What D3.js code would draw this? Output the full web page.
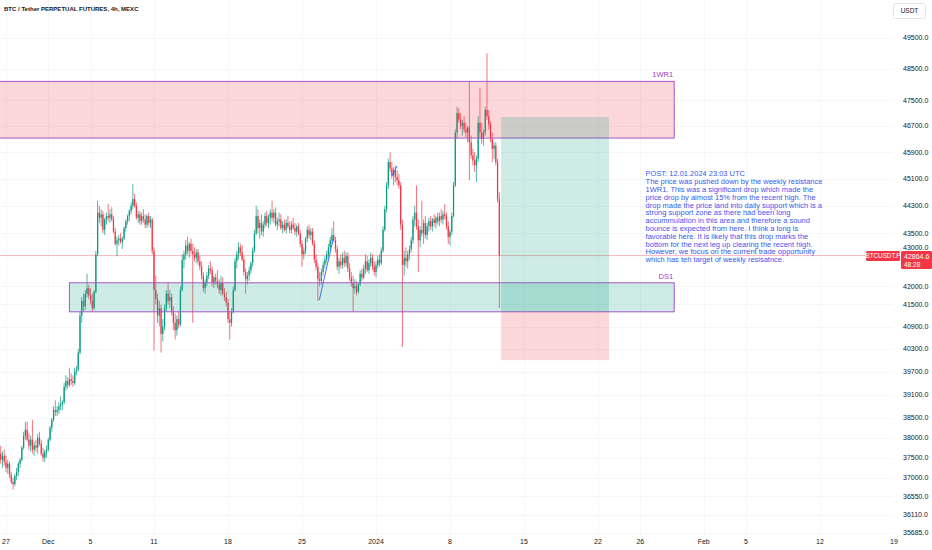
<!DOCTYPE html>
<html><head><meta charset="utf-8">
<script src="https://cdn.jsdelivr.net/npm/d3@7"></script>
<style>html,body{margin:0;padding:0;background:#fff;overflow:hidden}svg{display:block}</style>
</head><body>
<svg id="c" width="932" height="550"></svg>
<script>
const title = "BTC / Tether PERPETUAL FUTURES, 4h, MEXC";
const firstBarOpen = "2023-11-26T12:00";
const barHours = 4;
// [open, high, low, close] per 4h candle
const ohlc = [
[37600,37800,37350,37450],[37450,37650,37250,37550],[37550,37700,37300,37400],[37400,37550,37150,37250],[37250,37450,37100,37350],[37350,37400,37000,37080],
[37080,37150,36850,36900],[36900,37000,36720,36850],[36850,37100,36800,37050],[37050,37250,36950,37150],[37150,37400,37050,37350],[37350,37500,37250,37450],
[37450,37800,37400,37750],[37750,38150,37700,38050],[38050,38400,37950,38200],[38200,38400,37900,37950],[37950,38100,37700,37800],[37800,38050,37650,37950],
[37950,38450,37600,37700],[37700,37900,37550,37800],[37800,37950,37650,37750],[37750,38100,37600,38000],[38000,38150,37800,37850],[37850,37950,37550,37600],
[37600,37750,37400,37500],[37500,37700,37400,37650],[37650,37800,37500,37700],[37700,38000,37650,37950],[37950,38300,37900,38250],[38250,38500,38150,38450],
[38450,38800,38400,38700],[38700,38950,38550,38650],[38650,38800,38550,38700],[38700,38900,38600,38800],[38800,39050,38700,38850],[38850,38950,38700,38900],
[38900,39400,38850,39300],[39300,39600,39200,39450],[39450,39550,39250,39350],[39350,39800,39300,39500],[39500,39650,39350,39450],[39450,39600,39300,39400],
[39400,39800,39350,39700],[39700,39850,39600,39750],[39750,40300,39700,40200],[40200,41300,40150,41200],[41200,41700,41000,41600],[41600,41800,41300,41450],
[41450,41900,41350,41800],[41800,42350,41700,41950],[41950,42050,41650,41750],[41750,41950,41500,41600],[41600,41800,41300,41400],[41400,41900,41350,41850],
[41850,43000,41800,42900],[42900,44450,42850,44100],[44100,44300,43800,43950],[43950,44200,43700,44050],[44050,44150,43500,43600],[43600,43950,43450,43900],
[43900,44100,43750,44000],[44000,44350,43850,43950],[43950,44200,43800,44050],[44050,44250,43850,43900],[43900,44000,43500,43550],[43550,43650,43150,43200],
[43200,43400,42850,43300],[43300,43450,43150,43350],[43350,43500,43200,43250],[43250,43400,43050,43350],[43350,43700,43300,43650],[43650,43900,43550,43850],
[43850,44050,43750,44000],[44000,44200,43850,44150],[44150,44400,44050,44300],[44300,44950,44200,44500],[44500,44650,44250,44300],[44300,44400,43900,43950],
[43950,44150,43800,44050],[44050,44150,43750,43850],[43850,44100,43750,44000],[44000,44200,43800,43900],[43900,44050,43650,43750],[43750,44050,43650,44000],
[44000,44100,43700,43800],[43800,44000,43650,43900],[43900,43950,42900,43000],[43000,43100,40250,41900],[41900,42300,41500,41650],[41650,41800,41000,41200],
[41200,41600,40900,41400],[41400,41500,40200,40700],[40700,41100,40500,40900],[40900,41500,40800,41400],[41400,41900,41300,41800],[41800,42100,41500,41600],
[41600,41900,41400,41700],[41700,41800,41200,41300],[41300,41450,40800,41000],[41000,41250,40550,40800],[40800,41200,40650,41100],[41100,41300,40850,40950],
[40950,42000,40900,41900],[41900,42900,41850,42750],[42750,43000,42500,42900],[42900,43300,42750,43150],[43150,43400,42900,43000],[43000,43250,42800,43200],
[43200,43350,42900,43000],[43000,43200,41000,42900],[42900,43100,42700,42800],[42800,43050,42650,42950],[42950,43050,42600,42700],[42700,42850,42450,42550],
[42550,42700,42200,42300],[42300,42400,41850,41950],[41950,42200,41800,42100],[42100,42400,42000,42300],[42300,42600,42200,42500],[42500,42700,42350,42450],
[42450,42550,42000,42100],[42100,42300,41950,42250],[42250,42350,42050,42150],[42150,42450,41950,42050],[42050,42200,41800,41900],[41900,42300,41750,42100],
[42100,42250,41750,41800],[41800,41950,41600,41700],[41700,41850,41450,41550],[41550,41650,41000,41100],[41100,41300,40550,41000],[41000,41400,40900,41300],
[41300,42000,41250,41900],[41900,42800,41850,42700],[42700,43000,42500,42900],[42900,43250,42750,43100],[43100,43200,42850,42950],[42950,43150,42700,42750],
[42750,42850,42300,42400],[42400,42500,41800,42200],[42200,42400,42050,42300],[42300,42550,42150,42450],[42450,42700,42350,42650],[42650,43100,42550,43000],
[43000,43600,42950,43500],[43500,44300,43450,44000],[44000,44200,43500,43650],[43650,43900,43350,43800],[43800,44050,43450,43550],[43550,43850,43400,43750],
[43750,44100,43650,44000],[44000,44150,43700,43800],[43800,44050,43650,43950],[43950,44200,43750,44100],[44100,44450,43850,43950],[43950,44200,43800,44100],
[44100,44250,43700,43750],[43750,43950,43600,43850],[43850,44100,43700,43900],[43900,44050,43600,43650],[43650,43850,43500,43750],[43750,43900,43550,43600],
[43600,43900,43500,43800],[43800,44000,43650,43700],[43700,43850,43500,43600],[43600,43850,43500,43750],[43750,43950,43600,43650],[43650,43800,43450,43550],
[43550,43750,43400,43700],[43700,43800,43450,43500],[43500,43600,43100,43200],[43200,43300,42550,42900],[42900,43100,42750,43000],[43000,43400,42900,43350],
[43350,43700,43250,43600],[43600,43750,43350,43450],[43450,43650,43300,43550],[43550,43650,43150,43200],[43200,43300,42650,42750],[42750,42900,42450,42550],
[42550,42650,41600,42200],[42200,42400,42000,42150],[42150,42500,42050,42400],[42400,42700,42300,42600],[42600,42850,42500,42750],[42750,43000,42650,42900],
[42900,43200,42800,43100],[43100,43400,43000,43300],[43300,43650,43200,43450],[43450,43850,43250,43300],[43300,43400,42950,43050],[43050,43150,42450,42550],
[42550,42800,42350,42700],[42700,42900,42500,42600],[42600,42950,42500,42800],[42800,43000,42550,42650],[42650,42950,42550,42850],[42850,42950,42400,42500],
[42500,42650,42150,42250],[42250,42400,42000,42100],[42100,42300,41300,41950],[41950,42200,41800,42000],[42000,42150,41750,41850],[41850,42100,41800,42050],
[42050,42450,42000,42350],[42350,42500,42150,42250],[42250,42600,42200,42500],[42500,42900,42350,42700],[42700,42850,42400,42450],[42450,42750,42350,42650],
[42650,42950,42550,42800],[42800,42900,42450,42550],[42550,42700,42300,42400],[42400,42700,42250,42600],[42600,42850,42500,42750],[42750,42900,42550,42650],
[42650,43100,42600,43000],[43000,43700,42950,43600],[43600,44300,43550,44200],[44200,45000,44100,44900],[44900,45700,44800,45600],[45600,45900,45300,45400],
[45400,45600,45100,45200],[45200,45450,44900,45350],[45350,45500,45000,45150],[45150,45350,44900,45050],[45050,45250,44800,44900],[44900,45000,43600,43750],
[43750,43900,40350,42600],[42600,43000,42300,42800],[42800,43100,42550,42700],[42700,43000,42500,42900],[42900,43150,42750,43050],[43050,43400,42950,43300],
[43300,44000,43200,43900],[43900,44300,43700,44100],[44100,44900,43600,43700],[43700,43900,42400,43300],[43300,43700,43100,43600],[43600,44450,43400,43500],
[43500,43900,43200,43800],[43800,44000,43350,43450],[43450,43800,43300,43700],[43700,43950,43550,43850],[43850,44000,43600,43700],[43700,43950,43550,43900],
[43900,44050,43700,43800],[43800,44000,43650,43950],[43950,44100,43750,43850],[43850,44100,43700,44000],[44000,44200,43800,43900],[43900,44150,43750,44050],
[44050,44350,43900,44000],[44000,44100,43600,43700],[43700,43850,43200,43400],[43400,43600,43150,43550],[43550,44100,43450,44000],[44000,45000,43950,44900],
[44900,46600,44850,46500],[46500,47300,46300,47100],[47100,47250,46800,46900],[46900,47100,46600,46700],[46700,46900,46400,46800],[46800,47000,46500,46600],
[46600,46800,46350,46500],[46500,46700,46200,46650],[46650,48100,45050,46200],[46200,46400,45700,45800],[45800,46000,45500,45650],[45650,45900,45300,45500],
[45500,45800,45000,45700],[45700,47000,45600,46800],[46800,47900,46300,46500],[46500,46800,46150,46300],[46300,46600,46100,46500],[46500,47300,46400,47200],
[47200,49000,46900,47000],[47000,47200,46600,46750],[46750,46850,46200,46300],[46300,46500,45600,46000],[46000,46200,45700,46100],[46100,46200,45500,45600],
[45600,45700,44400,44500],[44500,44700,41400,42864.6]
];
const priceTicks = [49500,48500,47500,46700,45900,45100,44300,43500,43000,42000,41500,40900,40300,39700,39100,38500,38000,37500,37000,36550,36110,35685];
const timeTicks = [
 ["2023-11-27","27"],["2023-12-01","Dec"],["2023-12-05","5"],["2023-12-11","11"],["2023-12-18","18"],["2023-12-25","25"],
 ["2024-01-01","2024"],["2024-01-08","8"],["2024-01-15","15"],["2024-01-22","22"],["2024-01-26","26"],["2024-02-01","Feb"],
 ["2024-02-05","5"],["2024-02-12","12"],["2024-02-19","19"]
];
const zoneNames = ["1WR1","DS1"];
const zoneFrom = ["2023-11-20T00:00","2023-12-03T00:00"];
const zoneTo = ["2024-01-29T05:00","2024-01-29T05:00"];
const zoneLow = [46330, 41300];
const zoneHigh = [48100, 42100];
const zoneKind = ["resistance","support"];
const posFrom = "2024-01-12T20:00", posTo = "2024-01-23T01:00";
const posEntry = 41300, posTarget = 46980, posStop = 40000;
const trendlines = [
 [["2023-12-26T15:20",41620],["2023-12-27T23:00",43350]],
 [["2024-01-02T12:00",45180],["2024-01-03T00:00",45480]]
];
const symbol = "BTCUSDT.P", lastPrice = 42864.6, countdown = "48:28", currency = "USDT";
const noteLines = [
 "POST: 12.01.2024 23:03 UTC",
 "The price was pushed down by the weekly resistance",
 "1WR1. This was a significant drop which made the",
 "price drop by almost 15% from the recent high. The",
 "drop made the price land into daily support which is a",
 "strong support zone as there had been long",
 "accummulation in this area and therefore a sound",
 "bounce is expected from here. I think a long is",
 "favorable here. It is likely that this drop marks the",
 "bottom for the next leg up clearing the recent high.",
 "However, we focus on the current trade opportunity",
 "which has teh target of weekly resisatnce."
];
const noteAnchor = ["2024-01-26T12:00", 45170];

// ---------- drawing ----------
const t = s => new Date(s.length === 10 ? s + "T00:00Z" : s + "Z");
const svg = d3.select("#c");
const W = 932, H = 550, plotR = 893, plotB = 536;
const x = d3.scaleUtc().domain([t("2024-01-01"), t("2024-02-19")]).range([376, 894]);
const y = d3.scaleLog().domain([49500, 37000]).range([38, 478]);
const font = "'Liberation Sans', Arial, sans-serif";
const ink = "#131722";
const up = "#089981", down = "#f23645";
const fit = (sel, base, target) => {
  let w = 0; sel.each(function () { w = Math.max(w, this.getComputedTextLength()); });
  sel.attr("font-size", base * target / w);
};

svg.append("rect").attr("width", W).attr("height", H).attr("fill", "#fff");
svg.append("clipPath").attr("id", "plot").append("rect").attr("x", 0).attr("y", 0).attr("width", plotR).attr("height", plotB);

// grid
const grid = svg.append("g").attr("clip-path", "url(#plot)");
grid.selectAll("line.h").data(priceTicks).join("line")
  .attr("x1", 0).attr("x2", plotR).attr("y1", d => Math.round(y(d)) + 0.5).attr("y2", d => Math.round(y(d)) + 0.5)
  .attr("stroke", "#f6f7f9");
grid.selectAll("line.v").data(timeTicks).join("line")
  .attr("y1", 0).attr("y2", plotB).attr("x1", d => Math.round(x(t(d[0]))) + 0.5).attr("x2", d => Math.round(x(t(d[0]))) + 0.5)
  .attr("stroke", "#f6f7f9");

const plot = svg.append("g").attr("clip-path", "url(#plot)");

// last price line
plot.append("line").attr("x1", 0).attr("x2", 866).attr("y1", y(lastPrice)).attr("y2", y(lastPrice))
  .attr("stroke", "#f5a3ab").attr("stroke-width", 0.8);

// candles
const t0 = t(firstBarOpen).getTime();
const bars = ohlc.map((d, i) => ({ time: new Date(t0 + i * barHours * 3600e3), o: d[0], h: d[1], l: d[2], c: d[3] }));
const bw = 1.25;
const cg = plot.append("g");
cg.selectAll("line").data(bars).join("line")
  .attr("x1", d => x(d.time)).attr("x2", d => x(d.time))
  .attr("y1", d => y(d.h)).attr("y2", d => y(d.l))
  .attr("stroke", d => d.c >= d.o ? up : down).attr("stroke-width", 0.7);
cg.selectAll("rect").data(bars).join("rect")
  .attr("x", d => x(d.time) - bw / 2).attr("width", bw)
  .attr("y", d => y(Math.max(d.o, d.c)))
  .attr("height", d => Math.max(0.8, Math.abs(y(d.o) - y(d.c))))
  .attr("fill", d => d.c >= d.o ? up : down);

// trendlines
plot.selectAll("line.tl").data(trendlines).join("line")
  .attr("x1", d => x(t(d[0][0]))).attr("y1", d => y(d[0][1]))
  .attr("x2", d => x(t(d[1][0]))).attr("y2", d => y(d[1][1]))
  .attr("stroke", "#2962ff").attr("stroke-width", 0.9);

// zones
zoneNames.forEach((name, i) => {
  const x0 = x(t(zoneFrom[i])), x1 = x(t(zoneTo[i]));
  const yt = y(zoneHigh[i]), yb = y(zoneLow[i]);
  plot.append("rect").attr("x", x0).attr("y", yt).attr("width", x1 - x0).attr("height", yb - yt)
    .attr("fill", zoneKind[i] === "resistance" ? "rgba(242,54,69,0.2)" : "rgba(8,153,129,0.2)")
    .attr("stroke", "#a855c8").attr("stroke-width", 1);
  plot.append("text").attr("x", x1 - 1).attr("y", yt - 4).attr("text-anchor", "end")
    .attr("font-family", font).attr("font-size", 7.5).attr("fill", "#a040c0").text(name);
});

// long position tool
{
  const x0 = x(t(posFrom)), x1 = x(t(posTo));
  plot.append("rect").attr("x", x0).attr("width", x1 - x0).attr("y", y(posTarget)).attr("height", y(posEntry) - y(posTarget))
    .attr("fill", "rgba(8,153,129,0.2)");
  plot.append("rect").attr("x", x0).attr("width", x1 - x0).attr("y", y(posEntry)).attr("height", y(posStop) - y(posEntry))
    .attr("fill", "rgba(242,54,69,0.2)");
}

// note text
{
  const g = svg.append("g");
  const nx = x(t(noteAnchor[0])), ny = y(noteAnchor[1]);
  const txt = g.selectAll("text").data(noteLines).join("text")
    .attr("x", nx).attr("y", (d, i) => ny + i * 7.8)
    .attr("font-family", font).attr("font-size", 7).attr("fill", "#3a58ee").text(d => d);
  fit(txt, 7, 177);
}

// right price axis
const lpY = y(lastPrice);
svg.append("g").selectAll("text").data(priceTicks).join("text")
  .attr("x", 903).attr("y", d => Math.abs(y(d) - lpY) < 8 ? lpY - 8 : y(d)).attr("dy", "0.35em")
  .attr("font-family", font).attr("font-size", 7).attr("fill", ink)
  .text(d => d3.format(".1f")(d));

// currency box
svg.append("rect").attr("x", 893.5).attr("y", 3.5).attr("width", 32).attr("height", 15).attr("rx", 2)
  .attr("fill", "#fff").attr("stroke", "#e0e3eb");
svg.append("text").attr("x", 909.5).attr("y", 11).attr("dy", "0.35em").attr("text-anchor", "middle")
  .attr("font-family", font).attr("font-size", 6.5).attr("fill", ink).text(currency);

// last price labels
{
  const py = lpY;
  svg.append("rect").attr("x", 866).attr("y", py - 4.5).attr("width", 34).attr("height", 10).attr("rx", 1.5).attr("fill", down);
  svg.append("text").attr("x", 883).attr("y", py + 0.5).attr("dy", "0.35em").attr("text-anchor", "middle")
    .attr("font-family", font).attr("font-size", 6.3).attr("fill", "#fff").text(symbol);
  svg.append("rect").attr("x", 901).attr("y", py - 4.5).attr("width", 31).attr("height", 18).attr("rx", 1.5).attr("fill", down);
  svg.append("text").attr("x", 904).attr("y", py + 0.5).attr("dy", "0.35em")
    .attr("font-family", font).attr("font-size", 7).attr("fill", "#fff").text(d3.format(".1f")(lastPrice));
  svg.append("text").attr("x", 904).attr("y", py + 9).attr("dy", "0.35em")
    .attr("font-family", font).attr("font-size", 6.5).attr("fill", "#fff").text(countdown);
}

// time axis
svg.append("g").selectAll("text").data(timeTicks).join("text")
  .attr("x", d => x(t(d[0]))).attr("y", 542).attr("dy", "0.35em").attr("text-anchor", "middle")
  .attr("font-family", font).attr("font-size", 7).attr("fill", ink).text(d => d[1]);

// title
const tt = svg.append("text").attr("x", 4).attr("y", 8.5).attr("dy", "0.35em")
  .attr("font-family", font).attr("font-size", 7.5).attr("font-weight", 600).attr("fill", ink).text(title);
fit(tt, 7.5, 135);
</script>
</body></html>
